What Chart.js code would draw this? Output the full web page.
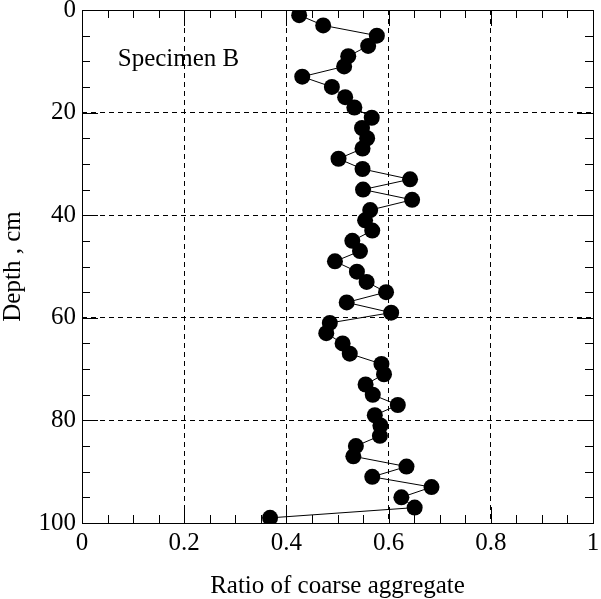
<!DOCTYPE html>
<html>
<head>
<meta charset="utf-8">
<style>
  html, body { margin: 0; padding: 0; background: #fff; }
  #wrap { width: 601px; height: 599px; }
</style>
<script src="https://cdn.jsdelivr.net/npm/chart.js@4"></script>
</head>
<body>
<div id="wrap"><canvas id="chart" width="601" height="599"></canvas></div>
<script>
// depth of each sample (cm) and the ratio read for it
const depths = [1, 3, 5, 7, 9, 11, 13, 15, 17, 19, 21, 23, 25, 27, 29, 31, 33, 35, 37, 39,
    41, 43, 45, 47, 49, 51, 53, 55, 57, 59, 61, 63, 65, 67, 69, 71, 73, 75, 77, 79,
    81, 83, 85, 87, 89, 91, 93, 95, 97, 99];
const ratios = [0.425, 0.472, 0.577, 0.560, 0.521, 0.513, 0.431, 0.489, 0.515, 0.533,
    0.567, 0.548, 0.558, 0.549, 0.502, 0.549, 0.642, 0.550, 0.646, 0.564,
    0.554, 0.568, 0.529, 0.544, 0.495, 0.538, 0.557, 0.595, 0.518, 0.605,
    0.485, 0.478, 0.510, 0.524, 0.586, 0.591, 0.555, 0.569, 0.618, 0.573,
    0.584, 0.583, 0.536, 0.531, 0.635, 0.568, 0.684, 0.625, 0.651, 0.368];

const xMajor = [0, 0.2, 0.4, 0.6, 0.8, 1];
const yMajor = [0, 20, 40, 60, 80, 100];
const specimenLabel = 'Specimen B';
const labelAt = { x: 0.07, y: 9.7 };

const FONT = 'Liberation Serif, Times New Roman, serif';

const isMajor = (v, list) => list.some(m => Math.abs(m - v) < 1e-6);

// let the layout padding alone decide where the plot box sits
const noScalePadding = s => {
    s.paddingTop = 0;
    s.paddingBottom = 0;
    s.paddingLeft = 0;
    s.paddingRight = 0;
};

// inward ticks on all four sides, the frame and the in-plot label
const framePlugin = {
    id: 'frame',
    afterDraw(chart) {
        const { ctx, chartArea: a, scales } = chart;
        ctx.save();
        ctx.strokeStyle = '#000';
        ctx.lineWidth = 1;
        ctx.beginPath();
        scales.x.ticks.forEach(t => {
            const px = Math.round(scales.x.getPixelForValue(t.value)) + 0.5;
            const len = isMajor(t.value, xMajor) ? 16 : 8;
            ctx.moveTo(px, a.bottom); ctx.lineTo(px, a.bottom - len);
            ctx.moveTo(px, a.top); ctx.lineTo(px, a.top + len);
        });
        scales.y.ticks.forEach(t => {
            const py = Math.round(scales.y.getPixelForValue(t.value)) + 0.5;
            const len = isMajor(t.value, yMajor) ? 16 : 8;
            ctx.moveTo(a.left, py); ctx.lineTo(a.left + len, py);
            ctx.moveTo(a.right, py); ctx.lineTo(a.right - len, py);
        });
        ctx.stroke();
        ctx.strokeRect(Math.round(a.left) + 0.5, Math.round(a.top) + 0.5,
            Math.round(a.right - a.left), Math.round(a.bottom - a.top));

        ctx.fillStyle = '#000';
        ctx.font = '25px ' + FONT;
        ctx.textAlign = 'left';
        ctx.textBaseline = 'middle';
        ctx.fillText(specimenLabel, scales.x.getPixelForValue(labelAt.x), scales.y.getPixelForValue(labelAt.y));
        ctx.restore();
    }
};

const points = depths.map((d, i) => ({ x: ratios[i], y: d }));

new Chart(document.getElementById('chart'), {
    type: 'scatter',
    data: {
        datasets: [{
            data: points,
            showLine: true,
            borderColor: '#000',
            borderWidth: 1,
            pointRadius: 8,
            pointHoverRadius: 8,
            pointBackgroundColor: '#000',
            pointBorderWidth: 0
        }]
    },
    options: {
        responsive: false,
        animation: false,
        layout: { padding: { left: 0, right: 8, top: 10, bottom: 0 } },
        plugins: { legend: { display: false }, tooltip: { enabled: false } },
        scales: {
            x: {
                type: 'linear',
                min: 0,
                max: 1,
                afterFit: s => { s.height = 76; noScalePadding(s); },
                border: { display: false, dash: [5, 4] },
                grid: {
                    drawTicks: false,
                    color: c => (c.tick && isMajor(c.tick.value, xMajor) && c.tick.value > 0 && c.tick.value < 1) ? '#000' : 'rgba(0,0,0,0)'
                },
                ticks: {
                    stepSize: 0.05,
                    autoSkip: false,
                    maxRotation: 0,
                    padding: 8,
                    color: '#000',
                    font: { family: FONT, size: 25, lineHeight: 1.0 },
                    callback: v => isMajor(v, xMajor) ? String(Math.round(v * 10) / 10) : ''
                },
                title: {
                    display: true,
                    text: 'Ratio of coarse aggregate',
                    color: '#000',
                    font: { family: FONT, size: 25, lineHeight: 1.0 },
                    padding: { top: 0, bottom: 0 }
                }
            },
            y: {
                type: 'linear',
                reverse: true,
                min: 0,
                max: 100,
                afterFit: s => { s.width = 82; noScalePadding(s); },
                border: { display: false, dash: [5, 4] },
                grid: {
                    drawTicks: false,
                    color: c => (c.tick && isMajor(c.tick.value, yMajor) && c.tick.value > 0 && c.tick.value < 100) ? '#000' : 'rgba(0,0,0,0)'
                },
                ticks: {
                    stepSize: 5,
                    autoSkip: false,
                    padding: 6,
                    color: '#000',
                    font: { family: FONT, size: 25, lineHeight: 0.8 },
                    callback: v => isMajor(v, yMajor) ? String(v) : ''
                },
                title: {
                    display: true,
                    text: 'Depth , cm',
                    color: '#000',
                    font: { family: FONT, size: 25, lineHeight: 1.0 },
                    padding: { top: 1, bottom: 0 }
                }
            }
        }
    },
    plugins: [framePlugin]
});
</script>
</body>
</html>
